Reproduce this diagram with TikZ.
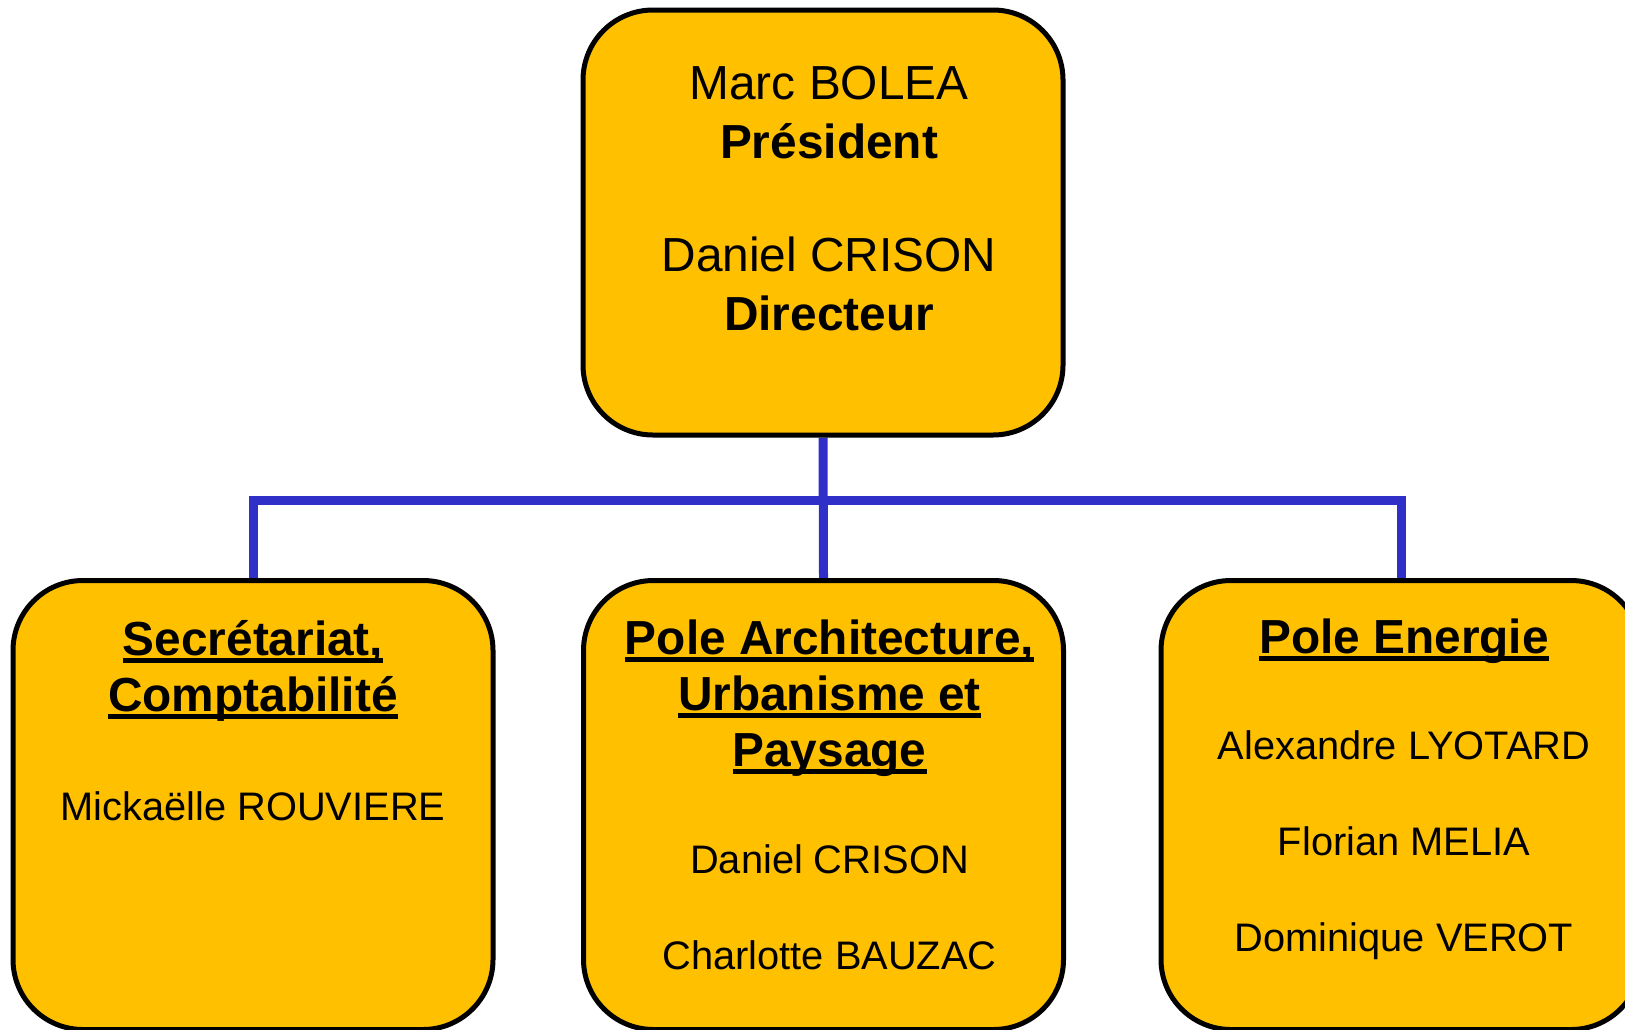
\documentclass[tikz,border=0pt]{standalone}
\usepackage{fontspec}
\setmainfont{Liberation Sans}
\usetikzlibrary{calc}
\usetikzlibrary{backgrounds}
\usetikzlibrary{positioning}

\definecolor{boxorange}{RGB}{255,192,0}
\definecolor{linkblue}{RGB}{48,48,200}
\newsavebox{\ulsave}
\newcommand{\ultext}[1]{\sbox{\ulsave}{#1}\rlap{\usebox{\ulsave}}\rule[-4pt]{\wd\ulsave}{2.5pt}}

\tikzset{
    orgbox/.style={draw=black, line width=2.5pt, fill=boxorange, rounded corners=35pt, minimum width=240pt},
    head/.style={font=\fontsize{23.9}{28}\selectfont\bfseries, align=center, inner sep=0pt, anchor=base},
    names/.style={font=\fontsize{19.9}{48}\selectfont, align=center, inner sep=0pt, anchor=base},
    link/.style={draw=linkblue, line width=4.5pt}
}

\begin{document}
\begin{tikzpicture}[x=0.5pt, y=-0.5pt]
    \useasboundingbox (0,0) rectangle (1625,1029);
    % boxes
    \node[orgbox, minimum height=212.5pt] (pres) at (823,222.5) {};
    \node[orgbox, minimum height=224.5pt] (secr) at (253,805) {};
    \node[orgbox, minimum height=224.5pt] (archi) at (823.5,805) {};
    \node[orgbox, minimum height=224.5pt] (energ) at (1401,805) {};
    % texts (anchored on the last line)
    \node[names, font=\fontsize{23.9}{29.5}\selectfont] (prestxt) at ($(pres.north)+(6,323)$)
        {Marc BOLEA\\ \textbf{Président}\\[27pt] Daniel CRISON\\ \textbf{Directeur}};
    \node[head] (secrhead) at ($(secr.north)+(0,133)$) {\ultext{Secrétariat,}\\ \ultext{Comptabilité}};
    \node[names] (secrnames) at ($(secr.north)+(0,242)$) {Mickaëlle ROUVIERE};
    \node[head] (archihead) at ($(archi.north)+(6,188)$) {\ultext{Pole Architecture,}\\ \ultext{Urbanisme et}\\ \ultext{Paysage}};
    \node[names] (archinames) at ($(archi.north)+(6,391)$) {Daniel CRISON\\ Charlotte BAUZAC};
    \node[head] (energhead) at ($(energ.north)+(3,75)$) {\ultext{Pole Energie}};
    \node[names] (energnames) at ($(energ.north)+(3,373)$) {Alexandre LYOTARD\\ Florian MELIA\\ Dominique VEROT};
    % connectors
    \coordinate (bus) at (823,500);
    \begin{scope}[on background layer]
        \draw[link] (pres.south) -- (archi.north);
        \draw[link] (secr.north) |- (bus) -| (energ.north);
    \end{scope}
\end{tikzpicture}
\end{document}
